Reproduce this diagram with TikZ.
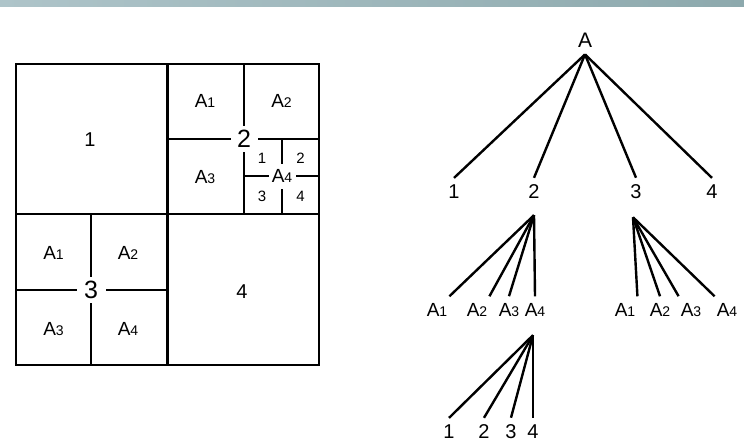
\documentclass[tikz,border=0pt]{standalone}
\usepackage{fontspec}
\setmainfont{Liberation Sans}
\usepackage{xcolor}
\usepackage{tikz}
\definecolor{barleft}{HTML}{AEC4C9}
\definecolor{barright}{HTML}{8DA9AD}
\newcommand{\Aq}[1]{A{\fontsize{14}{14}\selectfont #1}}

\begin{document}
\begin{tikzpicture}[
    x=1pt, y=-1pt,
    wall/.style={line width=2.6pt, line cap=rect},
    link/.style={line width=2.4pt},
    cell/.style={font=\fontsize{19}{19}\selectfont},
    tiny/.style={font=\fontsize{15}{15}\selectfont},
    hub/.style={fill=white, inner sep=0pt, minimum width=27pt, minimum height=26pt, font=\fontsize{25}{25}\selectfont},
    subhub/.style={fill=white, inner sep=0pt, minimum width=27pt, minimum height=25pt, font=\fontsize{19}{19}\selectfont},
    leaf/.style={inner xsep=2pt, inner ysep=7pt, font=\fontsize{19}{19}\selectfont},
    digit/.style={inner xsep=2pt, inner ysep=7pt, font=\fontsize{20}{20}\selectfont}
]
    \useasboundingbox (0,0) rectangle (744,447);

    % Header bar
    \shade[left color=barleft, right color=barright] (0,0) rectangle (744,6);

    % Quadtree grid
    \draw[wall] (16,64) rectangle (319,365);
    \draw[wall] (167.5,64) -- (167.5,365);
    \draw[wall] (16,214) -- (319,214);
    % block 2
    \draw[wall] (244,64) -- (244,214);
    \draw[wall] (167.5,139) -- (319,139);
    % block 2 / A4
    \draw[wall] (282,139) -- (282,214);
    \draw[wall] (244,176) -- (319,176);
    % block 3
    \draw[wall] (91,214) -- (91,365);
    \draw[wall] (16,290) -- (167.5,290);

    % Quadtree labels
    \node[font=\fontsize{20}{20}\selectfont] (g1) at (90,140) {1};
    \node[cell] (g2a1) at (205,101) {\Aq{1}};
    \node[cell] (g2a2) at (281.5,101) {\Aq{2}};
    \node[cell] (g2a3) at (205,177) {\Aq{3}};
    \node[tiny] (g2s1) at (262,158) {1};
    \node[tiny] (g2s2) at (300.5,158) {2};
    \node[tiny] (g2s3) at (262,196) {3};
    \node[tiny] (g2s4) at (300.5,196) {4};
    \node[subhub] (g2a4) at (282,176) {\Aq{4}};
    \node[hub] (g2) at (244,139) {2};
    \node[cell] (g3a1) at (53.5,253) {\Aq{1}};
    \node[cell] (g3a2) at (128,253) {\Aq{2}};
    \node[cell] (g3a3) at (53.5,329) {\Aq{3}};
    \node[cell] (g3a4) at (128,329) {\Aq{4}};
    \node[hub, minimum width=29pt] (g3) at (91,290) {3};
    \node[font=\fontsize{20}{20}\selectfont] (g4) at (242,292) {4};

    % Tree nodes
    \node[inner xsep=2pt, inner ysep=7pt, font=\fontsize{21}{21}\selectfont] (root) at (585,40) {A};
    \node[digit] (t1) at (454,192) {1};
    \node[digit] (t2) at (534,192) {2};
    \node[digit] (t3) at (636,192) {3};
    \node[digit] (t4) at (712,192) {4};
    \node[leaf] (t2a1) at (437,310) {\Aq{1}};
    \node[leaf] (t2a2) at (477,310) {\Aq{2}};
    \node[leaf] (t2a3) at (509,310) {\Aq{3}};
    \node[leaf] (t2a4) at (535,310) {\Aq{4}};
    \node[leaf] (t3a1) at (625,310) {\Aq{1}};
    \node[leaf] (t3a2) at (660,310) {\Aq{2}};
    \node[leaf] (t3a3) at (691,310) {\Aq{3}};
    \node[leaf] (t3a4) at (727,310) {\Aq{4}};
    \node[digit] (t4s1) at (449,432) {1};
    \node[digit] (t4s2) at (484,432) {2};
    \node[digit] (t4s3) at (511,432) {3};
    \node[digit] (t4s4) at (533,432) {4};

    % Tree edges
    \foreach \k in {t1,t2,t3,t4}
        \draw[link] (root.south) -- (\k.north);
    \draw[link] ([yshift=-9pt]t2.south) -- (t2a1.north east);
    \draw[link] ([yshift=-9pt]t2.south) -- (t2a2.north east);
    \draw[link] ([yshift=-9pt]t2.south) -- (t2a3.north);
    \draw[link] ([yshift=-9pt]t2.south) -- (t2a4.north);
    \draw[link] ([xshift=-3pt, yshift=-11pt]t3.south) -- (t3a1.north east);
    \draw[link] ([xshift=-3pt, yshift=-11pt]t3.south) -- (t3a2.north);
    \draw[link] ([xshift=-3pt, yshift=-11pt]t3.south) -- (t3a3.north west);
    \draw[link] ([xshift=-3pt, yshift=-11pt]t3.south) -- (t3a4.north west);
    \foreach \k in {t4s1,t4s2,t4s3,t4s4}
        \draw[link] ([xshift=-2pt, yshift=-11.5pt]t2a4.south) -- (\k.north);
\end{tikzpicture}
\end{document}
